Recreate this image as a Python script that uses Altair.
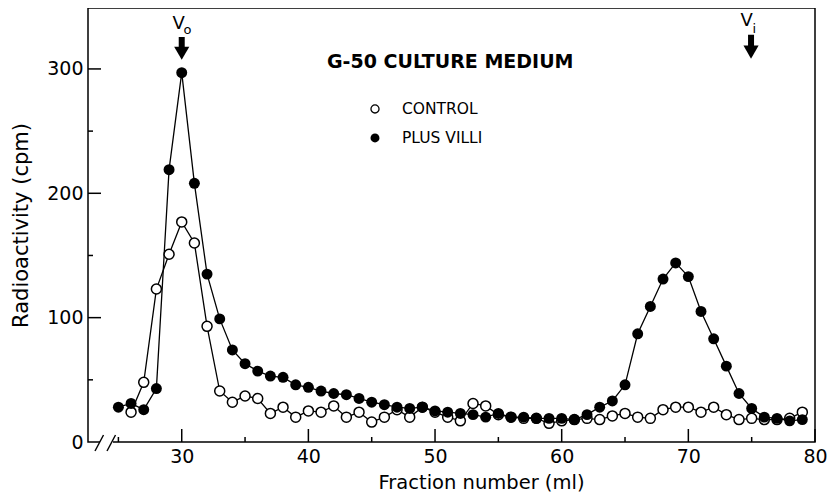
import altair as alt
import pandas as pd

# ---------------- data ----------------
villi_frac = list(range(25, 80))
villi_cpm = [28, 31, 26, 43, 219, 297, 208, 135, 99, 74,
             63, 57, 53, 52, 46, 44, 41, 39, 38, 35,
             32, 30, 28, 27, 28, 25, 24, 23, 22, 20,
             23, 20, 20, 19, 19, 19, 18, 22, 28, 33,
             46, 87, 109, 131, 144, 133, 105, 83, 61, 39,
             27, 20, 19, 17, 18]

control_frac = list(range(26, 80))
control_cpm = [24, 48, 123, 151, 177, 160, 93, 41, 32, 37,
               35, 23, 28, 20, 25, 24, 29, 20, 24, 16,
               20, 26, 20, 28, 24, 20, 17, 31, 29, 22,
               20, 19, 19, 15, 17, 18, 19, 18, 21, 23,
               20, 19, 26, 28, 28, 24, 28, 22, 18, 19,
               18, 18, 19, 24]

x_major = [30, 40, 50, 60, 70, 80]
x_minor = [25, 35, 45, 55, 65, 75]
y_major = [0, 100, 200, 300]
y_minor = [50, 150, 250]

FONT = "DejaVu Sans"
W, H = 727, 434
xs = alt.Scale(domain=[22.6, 80], nice=False, zero=False)
ys = alt.Scale(domain=[0, 349], nice=False, zero=False)

XAXIS = alt.Axis(values=x_major, tickSize=0, domain=False, grid=False,
                 labelFontSize=19, labelFont=FONT, labelColor="black",
                 labelPadding=5, labelFlush=False,
                 title="Fraction number (ml)", titleFont=FONT,
                 titleFontSize=19.5, titleFontWeight="normal",
                 titleColor="black", titleX=393, titleY=46,
                 titleBaseline="alphabetic", titleAnchor="middle")
YAXIS = alt.Axis(values=y_major, tickSize=0, domain=False, grid=False,
                 labelFontSize=19, labelFont=FONT, labelColor="black",
                 labelPadding=5, labelFlush=False,
                 title="Radioactivity (cpm)", titleFont=FONT,
                 titleFontSize=21, titleFontWeight="normal",
                 titleColor="black", titleX=-67, titleY=217,
                 titleBaseline="middle", titleAngle=-90)


def X(field):
    return alt.X(field, scale=xs, axis=XAXIS, title="Fraction number (ml)")


def Y(field):
    return alt.Y(field, scale=ys, axis=YAXIS, title="Radioactivity (cpm)")


villi = pd.DataFrame({"frac": villi_frac, "cpm": villi_cpm})
control = pd.DataFrame({"frac": control_frac, "cpm": control_cpm})

base_villi = alt.Chart(villi).encode(x=X("frac:Q"), y=Y("cpm:Q"))
villi_line = base_villi.mark_line(color="black", strokeWidth=1.3)
villi_pts = base_villi.mark_circle(size=120, color="black", opacity=1)

base_ctrl = alt.Chart(control).encode(x=X("frac:Q"), y=Y("cpm:Q"))
ctrl_line = base_ctrl.mark_line(color="black", strokeWidth=1.3)
ctrl_pts = base_ctrl.mark_circle(size=100, fill="white", stroke="black",
                                 strokeWidth=1.5, opacity=1)


# ---------------- inward ticks ----------------
def xticks(vals, length):
    return alt.Chart(pd.DataFrame({"t": vals})).mark_rule(
        color="black", strokeWidth=1.5).encode(
        x=X("t:Q"), y=alt.value(H), y2=alt.value(H - length))


def yticks(vals, length):
    return alt.Chart(pd.DataFrame({"t": vals})).mark_rule(
        color="black", strokeWidth=1.5).encode(
        y=Y("t:Q"), x=alt.value(0), x2=alt.value(length))


ticks = [xticks(x_major, 13), xticks(x_minor, 5),
         yticks(y_major[1:], 13), yticks(y_minor, 5)]

# ---------------- axis break ----------------
one = pd.DataFrame({"a": [0]})
gap = alt.Chart(one).mark_rule(color="white", strokeWidth=4).encode(
    x=alt.value(12), x2=alt.value(25), y=alt.value(H), y2=alt.value(H))
slash1 = alt.Chart(one).mark_rule(color="black", strokeWidth=1.4).encode(
    x=alt.value(7), x2=alt.value(15.5), y=alt.value(H + 9), y2=alt.value(H - 7))
slash2 = alt.Chart(one).mark_rule(color="black", strokeWidth=1.4).encode(
    x=alt.value(19), x2=alt.value(27.5), y=alt.value(H + 9), y2=alt.value(H - 7))


# ---------------- annotations ----------------
def txt(df, size, align="center", weight="normal"):
    return alt.Chart(df).mark_text(
        font=FONT, fontSize=size, align=align, baseline="middle",
        color="black", fontWeight=weight).encode(
        x=X("x:Q"), y=Y("y:Q"), text="s:N")


v_main = pd.DataFrame({"x": [29.75, 74.6], "y": [336.5, 338.5], "s": ["V", "V"]})
v_sub = pd.DataFrame({"x": [30.45, 75.2], "y": [331.5, 332.5], "s": ["o", "i"]})
title_df = pd.DataFrame({"x": [51.2], "y": [305.6], "s": ["G-50 CULTURE  MEDIUM"]})
leg_txt = pd.DataFrame({"x": [47.39, 47.39], "y": [267.8, 244.5],
                        "s": ["CONTROL", "PLUS VILLI"]})

arrows = pd.DataFrame({"x": [30, 74.95], "top": [325.7, 327.5], "bot": [316.0, 317.5],
                       "head": [312.6, 313.5]})
shaft = alt.Chart(arrows).mark_rule(color="black", strokeWidth=6).encode(
    x=X("x:Q"), y=Y("top:Q"), y2="bot:Q")
head = alt.Chart(arrows).mark_point(shape="triangle-down", size=230, filled=True,
                                    color="black", opacity=1).encode(
    x=X("x:Q"), y=Y("head:Q"))

leg_open = alt.Chart(pd.DataFrame({"x": [45.26], "y": [267.8]})).mark_circle(
    size=65, fill="white", stroke="black", strokeWidth=1.3, opacity=1).encode(
    x=X("x:Q"), y=Y("y:Q"))
leg_fill = alt.Chart(pd.DataFrame({"x": [45.26], "y": [244.5]})).mark_circle(
    size=80, color="black", opacity=1).encode(
    x=X("x:Q"), y=Y("y:Q"))

chart = alt.layer(
    villi_line, ctrl_line, ctrl_pts, villi_pts,
    *ticks, gap, slash1, slash2,
    txt(v_main, 18), txt(v_sub, 13),
    txt(title_df, 19, weight="bold"),
    txt(leg_txt, 15.5, align="left"),
    shaft, head, leg_open, leg_fill,
).properties(
    width=W, height=H,
    background="white",
    autosize=alt.AutoSizeParams(type="none"),
    padding={"left": 80, "top": 0, "right": 13, "bottom": 50},
).configure_view(
    stroke="black", strokeWidth=1.5
)

chart.save("out.html", embed_options={"renderer": "svg", "actions": False})
